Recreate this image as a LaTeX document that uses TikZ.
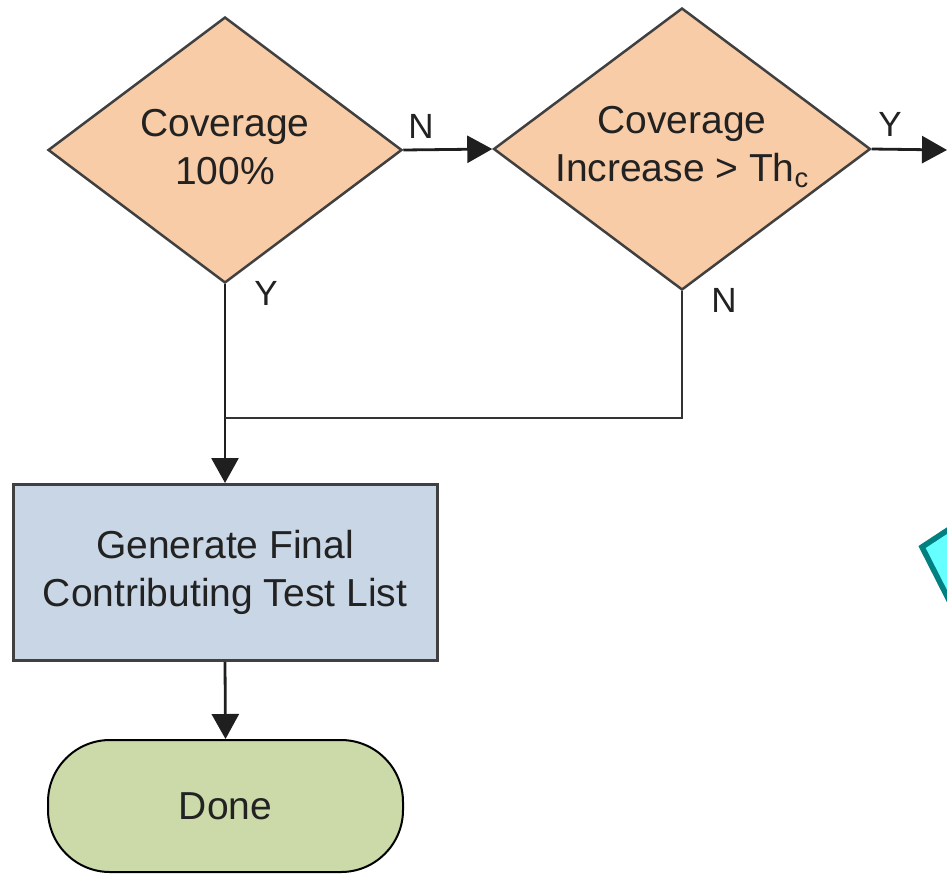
\documentclass[tikz,border=0pt]{standalone}
\usepackage{fontspec}
\setmainfont{Liberation Sans}
\usetikzlibrary{shapes.geometric,arrows.meta,positioning}
\definecolor{peach}{RGB}{249,204,168}
\definecolor{steel}{RGB}{201,214,229}
\definecolor{sage}{RGB}{203,218,168}
\definecolor{edgegray}{RGB}{64,64,64}
\definecolor{ink}{RGB}{34,34,34}
\definecolor{tealedge}{RGB}{0,128,128}
\definecolor{aqua}{RGB}{102,255,255}
\tikzset{
  bigtext/.style={text=ink, align=center, font=\fontsize{39}{48}\selectfont},
  decision/.style={shape=diamond, draw=edgegray, line width=2.5pt, fill=peach,
    inner sep=0pt},
  caption/.style={bigtext, inner sep=0pt},
  process/.style={rectangle, draw=edgegray, line width=3pt, fill=steel,
    inner sep=0pt, bigtext},
  terminal/.style={rectangle, rounded corners=62pt, draw=black, line width=2pt,
    fill=sage, inner sep=0pt, bigtext},
  flow/.style={line width=2.8pt, draw=black!88,
    -{Triangle[length=25pt,width=27pt]}},
  plainflow/.style={line width=2.8pt, draw=black!80},
  branch/.style={text=ink, font=\fontsize{35}{40}\selectfont, inner sep=0pt},
}
\begin{document}
\begin{tikzpicture}[x=1pt,y=-1pt]
  \useasboundingbox (0,0) rectangle (947,873);

  % decisions (outline first, wording on top)
  \node[decision, minimum width=354pt, minimum height=266pt] (full) at (225,150) {};
  \node[caption] (fulltext) at (225,147) {Coverage\\100\%};
  \node[decision, minimum width=377pt, minimum height=282pt] (gain) at (682,149) {};
  \node[caption] (gaintext) at (682,147) {Coverage\\Increase > Th\textsubscript{c}};

  % actions and end
  \node[process, minimum width=424pt, minimum height=176pt] (final) at (225,572.5)
    {Generate Final\\Contributing Test List};
  \node[terminal, minimum width=355pt, minimum height=132pt] (done) at (225.5,806)
    {Done};

  % partly visible shape at the right edge
  \draw[draw=tealedge, fill=aqua, line width=5.5pt, line join=miter]
    (960,522) -- (922,547) -- (955,612);

  % helper points
  \coordinate (join) at (225,418);
  \coordinate (out) at (947,150);

  % connectors
  \draw[flow] (full.east) -- (gain.west);
  \draw[flow] (gain.east) -- (out);
  \draw[flow] (full.south) -- (final.north);
  \draw[plainflow] (gain.south) |- (join);
  \draw[flow] (final.south) -- (done.north);

  % branch labels
  \node[branch] (n1) at (421,126) {N};
  \node[branch] (y1) at (890,124) {Y};
  \node[branch] (y2) at (266,293) {Y};
  \node[branch] (n2) at (724,300) {N};
\end{tikzpicture}
\end{document}
